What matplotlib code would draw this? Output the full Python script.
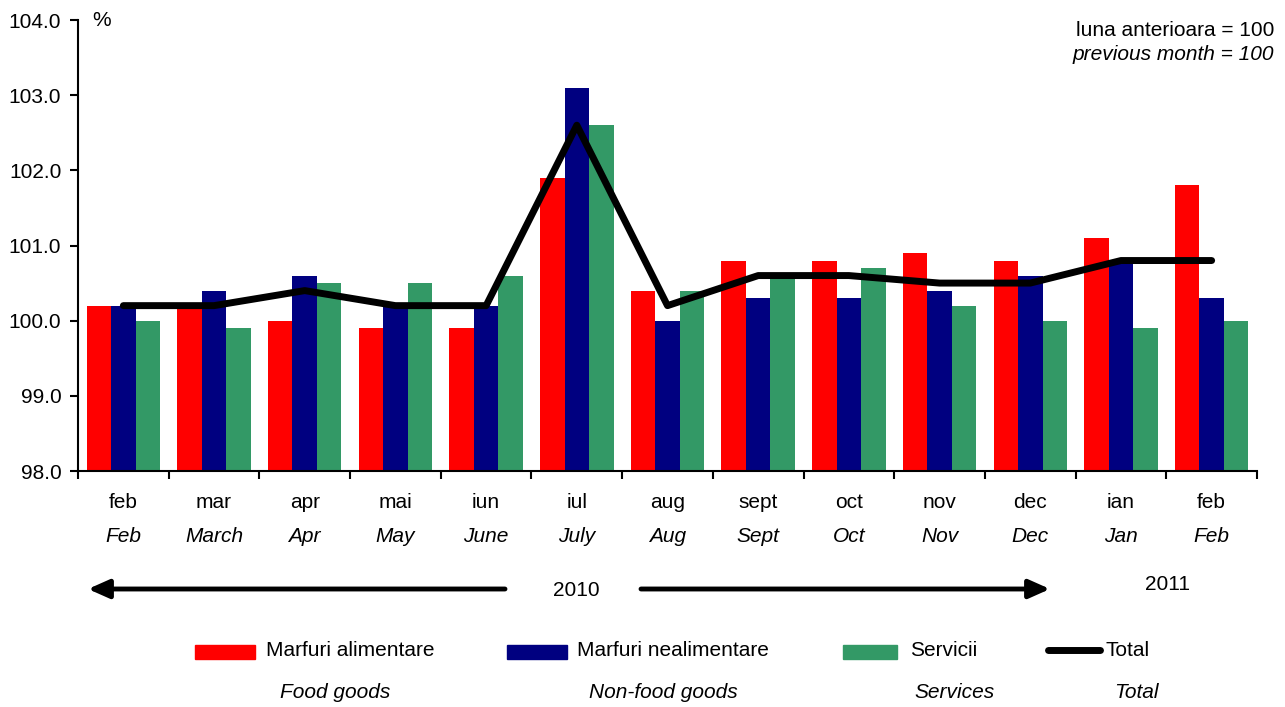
import matplotlib
matplotlib.use("Agg")
import matplotlib.pyplot as plt
import numpy as np
from matplotlib.patches import Rectangle, FancyArrowPatch
from matplotlib.lines import Line2D

plt.rcParams['font.family'] = ['Liberation Sans', 'DejaVu Sans']

months_ro = ["feb", "mar", "apr", "mai", "iun", "iul", "aug", "sept", "oct", "nov", "dec", "ian", "feb"]
months_en = ["Feb", "March", "Apr", "May", "June", "July", "Aug", "Sept", "Oct", "Nov", "Dec", "Jan", "Feb"]
food = [100.2, 100.2, 100.0, 99.9, 99.9, 101.9, 100.4, 100.8, 100.8, 100.9, 100.8, 101.1, 101.8]
nonfood = [100.2, 100.4, 100.6, 100.2, 100.2, 103.1, 100.0, 100.3, 100.3, 100.4, 100.6, 100.8, 100.3]
services = [100.0, 99.9, 100.5, 100.5, 100.6, 102.6, 100.4, 100.6, 100.7, 100.2, 100.0, 99.9, 100.0]
total = [100.2, 100.2, 100.4, 100.2, 100.2, 102.6, 100.2, 100.6, 100.6, 100.5, 100.5, 100.8, 100.8]
yticks = [98.0, 99.0, 100.0, 101.0, 102.0, 103.0, 104.0]

RED = "#FF0000"
NAVY = "#000080"
GREEN = "#339966"
FS = 15

W, H = 1285, 707
fig = plt.figure(figsize=(W / 100, H / 100), dpi=100)
ax = fig.add_axes([78 / W, 1 - 471 / H, (1257 - 78) / W, (471 - 20) / H])

n = len(months_ro)
x = np.arange(n)
bw = 0.27
base = 98.0
ax.bar(x - bw, np.array(food) - base, bw, bottom=base, color=RED, zorder=2)
ax.bar(x, np.array(nonfood) - base, bw, bottom=base, color=NAVY, zorder=2)
ax.bar(x + bw, np.array(services) - base, bw, bottom=base, color=GREEN, zorder=2)
ax.plot(x, total, color="black", lw=5, solid_capstyle="round", solid_joinstyle="round", zorder=3)

ax.set_xlim(-0.5, n - 0.5)
ax.set_ylim(98.0, 104.0)
ax.set_yticks(yticks)
ax.set_yticklabels([f"{v:.1f}" for v in yticks], fontsize=FS)
ax.set_xticks(np.arange(n + 1) - 0.5)
ax.set_xticklabels([])
ax.tick_params(axis='x', direction='out', length=6, width=1.5)
ax.tick_params(axis='y', direction='out', length=6, width=1.5, pad=6)
for s in ["top", "right"]:
    ax.spines[s].set_visible(False)
ax.spines["left"].set_linewidth(1.5)
ax.spines["bottom"].set_linewidth(1.5)

for i in range(n):
    ax.annotate(months_ro[i], (x[i], 98.0), xytext=(0, -23), textcoords="offset points",
                ha="center", va="center", fontsize=FS)
    ax.annotate(months_en[i], (x[i], 98.0), xytext=(0, -47), textcoords="offset points",
                ha="center", va="center", fontsize=FS, style="italic")

def fx(px):
    return px / W

def fy(py):
    return 1 - py / H

fig.text(fx(92), fy(20), "%", fontsize=FS, ha="left", va="center")
fig.text(fx(1274), fy(30), "luna anterioara = 100", fontsize=FS, ha="right", va="center")
fig.text(fx(1274), fy(54), "previous month = 100", fontsize=FS, ha="right", va="center", style="italic")

# year arrows
arrowprops = dict(arrowstyle="-|>,head_length=0.9,head_width=0.4", color="black", lw=3.5, shrinkA=0, shrinkB=0)
fig.patches.append(FancyArrowPatch((fx(505), fy(589)), (fx(88), fy(589)),
                   transform=fig.transFigure, mutation_scale=14, **arrowprops))
fig.patches.append(FancyArrowPatch((fx(641), fy(589)), (fx(1050), fy(589)),
                   transform=fig.transFigure, mutation_scale=14, **arrowprops))
fig.text(fx(576), fy(590), "2010", fontsize=FS, ha="center", va="center")
fig.text(fx(1168), fy(585), "2011", fontsize=FS, ha="center", va="center")

# legend
for (x0, x1, col) in [(195, 255, RED), (507, 567, NAVY), (843, 897, GREEN)]:
    fig.patches.append(Rectangle((fx(x0), fy(659)), fx(x1 - x0), (659 - 645) / H,
                                 transform=fig.transFigure, color=col))
fig.lines.append(Line2D([fx(1048), fx(1100)], [fy(650), fy(650)], transform=fig.transFigure,
                        color="black", lw=5, solid_capstyle="round"))
fig.text(fx(266), fy(650), "Marfuri alimentare", fontsize=FS, ha="left", va="center")
fig.text(fx(577), fy(650), "Marfuri nealimentare", fontsize=FS, ha="left", va="center")
fig.text(fx(910), fy(650), "Servicii", fontsize=FS, ha="left", va="center")
fig.text(fx(1106), fy(650), "Total", fontsize=FS, ha="left", va="center")
fig.text(fx(335), fy(693), "Food goods", fontsize=FS, ha="center", va="center", style="italic")
fig.text(fx(663), fy(693), "Non-food goods", fontsize=FS, ha="center", va="center", style="italic")
fig.text(fx(955), fy(693), "Services", fontsize=FS, ha="center", va="center", style="italic")
fig.text(fx(1136), fy(693), "Total", fontsize=FS, ha="center", va="center", style="italic")

fig.savefig("out.png", dpi=100)
